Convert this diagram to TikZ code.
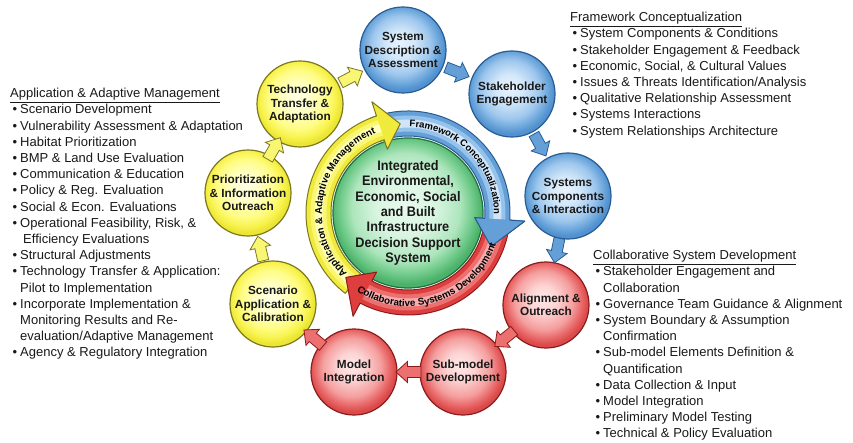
\documentclass[tikz,border=0pt]{standalone}
\usepackage{fontspec}
\setmainfont{Liberation Sans}
\newfontfamily\dssfont[FakeStretch=0.92]{Liberation Sans}
\usetikzlibrary{calc,decorations.text}

% palette
\definecolor{ylwLine}{RGB}{125,120,30}
\definecolor{ylwBase}{RGB}{240,234,60}
\definecolor{ylwMid}{RGB}{249,246,115}
\definecolor{ylwPale}{RGB}{255,255,185}
\definecolor{bluLine}{RGB}{40,92,148}
\definecolor{bluBase}{RGB}{100,160,215}
\definecolor{bluMid}{RGB}{150,195,235}
\definecolor{bluPale}{RGB}{208,230,248}
\definecolor{redLine}{RGB}{140,28,28}
\definecolor{redBase}{RGB}{222,62,62}
\definecolor{redMid}{RGB}{236,112,112}
\definecolor{redPale}{RGB}{246,172,172}
\definecolor{grnLine}{RGB}{30,112,60}
\definecolor{inkText}{RGB}{25,25,25}

% glossy disc shadings (rim at 25bp)
\pgfdeclareradialshading{ylwball}{\pgfpoint{-2bp}{4bp}}{rgb(0bp)=(1,1,0.9); rgb(8bp)=(1,1,0.78); rgb(17bp)=(1,0.99,0.52); rgb(22bp)=(0.97,0.95,0.3); rgb(25bp)=(0.92,0.9,0.2); rgb(50bp)=(0.92,0.9,0.2)}
\pgfdeclareradialshading{bluball}{\pgfpoint{-2bp}{4bp}}{rgb(0bp)=(0.91,0.95,1); rgb(8bp)=(0.83,0.91,0.98); rgb(17bp)=(0.62,0.78,0.93); rgb(22bp)=(0.42,0.65,0.86); rgb(25bp)=(0.32,0.57,0.81); rgb(50bp)=(0.32,0.57,0.81)}
\pgfdeclareradialshading{redball}{\pgfpoint{-2bp}{4bp}}{rgb(0bp)=(1,0.91,0.91); rgb(8bp)=(0.99,0.83,0.83); rgb(17bp)=(0.96,0.62,0.62); rgb(22bp)=(0.91,0.4,0.4); rgb(25bp)=(0.86,0.29,0.29); rgb(50bp)=(0.86,0.29,0.29)}
\pgfdeclareradialshading{grnball}{\pgfpoint{-1bp}{3bp}}{rgb(0bp)=(0.91,0.98,0.93); rgb(10bp)=(0.85,0.96,0.88); rgb(18bp)=(0.68,0.9,0.74); rgb(22bp)=(0.45,0.8,0.55); rgb(25bp)=(0.3,0.7,0.42); rgb(50bp)=(0.3,0.7,0.42)}

% ring geometry
\newcommand\rIn{77}
\newcommand\rOut{102}
\newcommand\rMid{89.5}

% curved band with arrow head: start, head base, tip, base, mid, pale, line
\newcommand\ringband[7]{%
  \filldraw[fill=#4, draw=#7, line width=1pt, line join=round]
    ($(ctr)+(#1:\rOut)$) arc[start angle=#1, end angle=#2, radius=\rOut]
    -- ($(ctr)+(#2:\rOut+15)$) -- ($(ctr)+(#3:\rMid)$)
    -- ($(ctr)+(#2:\rIn-10)$) -- ($(ctr)+(#2:\rIn)$)
    arc[start angle=#2, end angle=#1, radius=\rIn] -- cycle;
  \draw[#5, line width=16pt] ($(ctr)+(#1-1:\rMid)$) arc[start angle=#1-1, end angle=#2, radius=\rMid];
  \draw[#6, line width=8pt] ($(ctr)+(#1-1:\rMid)$) arc[start angle=#1-1, end angle=#2, radius=\rMid];
}
% head only, laid again over a neighbouring tail: base, tip, fill, line
\newcommand\ringhead[4]{%
  \fill[#3] ($(ctr)+(#1:\rOut)$) -- ($(ctr)+(#1:\rOut+15)$) -- ($(ctr)+(#2:\rMid)$)
    -- ($(ctr)+(#1:\rIn-10)$) -- ($(ctr)+(#1:\rIn)$) -- cycle;
  \draw[#4, line width=1pt, line join=round] ($(ctr)+(#1:\rOut)$) -- ($(ctr)+(#1:\rOut+15)$)
    -- ($(ctr)+(#2:\rMid)$) -- ($(ctr)+(#1:\rIn-10)$) -- ($(ctr)+(#1:\rIn)$);
}
% block arrow between two stage discs
\newcommand\link[3]{%
  \path let \p1=($(#2)-(#1)$), \n1={atan2(\y1,\x1)} in
    pic[#3, rotate=\n1] (#1-#2) at ($(#1)!0.5!(#2)$) {blockarrow};
}
\newcommand\bl{\hspace*{2.5pt}\makebox[7.5pt][l]{\textbullet}}
\newcommand\ct{\hspace*{10pt}}

\begin{document}
\begin{tikzpicture}[x=1pt, y=1pt,
  stage/.style={circle, line width=1.2pt, minimum size=86pt, inner sep=0pt,
    align=center, text=inkText, font=\bfseries\fontsize{11.8}{13.3}\selectfont},
  ystage/.style={stage, shading=ylwball, draw=ylwLine},
  bstage/.style={stage, shading=bluball, draw=bluLine},
  rstage/.style={stage, shading=redball, draw=redLine},
  pics/blockarrow/.style={code={
    \filldraw[pic actions, line width=0.8pt, line join=miter]
      (-12.5,-5.5) -- (1,-5.5) -- (1,-10.5) -- (12.5,0) -- (1,10.5)
      -- (1,5.5) -- (-12.5,5.5) -- cycle;}},
  ylink/.style={fill=ylwMid, draw=ylwLine},
  blink/.style={fill=bluBase, draw=bluLine},
  rlink/.style={fill=redMid, draw=redLine},
  itemlist/.style={align=left, inner sep=0pt, text=inkText,
    font=\fontsize{13}{16.2}\selectfont},
  arclabel/.style 2 args={decorate, decoration={text along path, text align=center,
    text={|\bfseries\fontsize{#1}{12}\selectfont|#2}}}
]
\fill[white] (0,0) rectangle (853,442);
\useasboundingbox (0,0) rectangle (853,442);
\coordinate (ctr) at (408,229);

% central disc
\node[stage, shading=grnball, draw=grnLine, minimum size=150pt,
  font=\dssfont\bfseries\fontsize{13.8}{15.3}\selectfont] (dss) at (ctr)
  {Integrated\\Environmental,\\Economic, Social\\and Built\\Infrastructure\\Decision Support\\System};

% ring of three phase arrows
\ringband{112}{-4}{-22}{bluBase}{bluMid}{bluPale}{bluLine}
\ringband{-128}{-252}{-265}{ylwBase}{ylwMid}{ylwPale}{ylwLine}
\ringband{-8}{-118}{-134}{redBase}{redMid}{redPale}{redLine}
\ringhead{-4}{-22}{bluBase}{bluLine}

\path[arclabel={9.5}{Framework Conceptualization}]
  ($(ctr)+(91:86)$) arc[start angle=91, end angle=-3, radius=86];
\path[arclabel={9.8}{Application {\&} Adaptive Management}]
  ($(ctr)+(-132:86)$) arc[start angle=-132, end angle=-251, radius=86];
\path[arclabel={9.8}{Collaborative Systems Development}]
  ($(ctr)+(-127:93.5)$) arc[start angle=-127, end angle=-16, radius=93.5];

% stage discs
\node[bstage] (sysdesc)  at (403,392) {System\\Description \&\\Assessment};
\node[bstage] (stake)    at (512,348) {Stakeholder\\Engagement};
\node[bstage] (syscomp)  at (568,246) {Systems\\Components\\\& Interaction};
\node[rstage] (align)    at (546,137) {Alignment \&\\Outreach};
\node[rstage] (submodel) at (463,70)  {Sub-model\\Development};
\node[rstage] (modelint) at (354,70)  {Model\\Integration};
\node[ystage] (scenario) at (273,138) {Scenario\\Application \&\\Calibration};
\node[ystage] (prior)    at (248,249) {Prioritization\\\& Information\\Outreach};
\node[ystage] (tech)     at (300,338) {Technology\\Transfer \&\\Adaptation};

% cycle arrows between stages
\link{sysdesc}{stake}{blink}
\link{stake}{syscomp}{blink}
\link{syscomp}{align}{blink}
\link{align}{submodel}{rlink}
\link{submodel}{modelint}{rlink}
\link{modelint}{scenario}{rlink}
\link{scenario}{prior}{ylink}
\link{prior}{tech}{ylink}
\link{tech}{sysdesc}{ylink}

% activity lists
\node[itemlist, anchor=north west] (amlist) at (10,354) {%
\underline{Application \& Adaptive Management}\\
\bl Scenario Development\\
\bl Vulnerability Assessment \& Adaptation\\
\bl Habitat Prioritization\\
\bl BMP \& Land Use Evaluation\\
\bl Communication \& Education\\
\bl Policy \& Reg. Evaluation\\
\bl Social \& Econ. Evaluations\\
\bl Operational Feasibility, Risk, \&\\
\hspace*{13pt}Efficiency Evaluations\\
\bl Structural Adjustments\\
\bl Technology Transfer \& Application:\\
\ct Pilot to Implementation\\
\bl Incorporate Implementation \&\\
\ct Monitoring Results and Re-\\
\ct evaluation/Adaptive Management\\
\bl Agency \& Regulatory Integration};

\node[itemlist, anchor=north west] (fclist) at (570,430) {%
\underline{Framework Conceptualization}\\
\bl System Components \& Conditions\\
\bl Stakeholder Engagement \& Feedback\\
\bl Economic, Social, \& Cultural Values\\
\bl Issues \& Threats Identification/Analysis\\
\bl Qualitative Relationship Assessment\\
\bl Systems Interactions\\
\bl System Relationships Architecture};

\node[itemlist, anchor=north west] (cslist) at (593,192) {%
\underline{Collaborative System Development}\\
\bl Stakeholder Engagement and\\
\ct Collaboration\\
\bl Governance Team Guidance \& Alignment\\
\bl System Boundary \& Assumption\\
\ct Confirmation\\
\bl Sub-model Elements Definition \&\\
\ct Quantification\\
\bl Data Collection \& Input\\
\bl Model Integration\\
\bl Preliminary Model Testing\\
\bl Technical \& Policy Evaluation};
\end{tikzpicture}
\end{document}
